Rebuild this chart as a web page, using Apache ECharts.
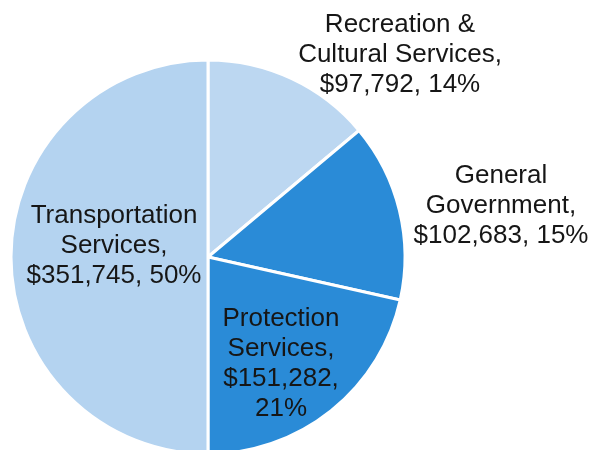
<!DOCTYPE html>
<html>
<head>
<meta charset="utf-8">
<script src="https://cdn.jsdelivr.net/npm/echarts@6/dist/echarts.min.js"></script>
<style>
  html, body { margin: 0; padding: 0; background: #ffffff; }
  #chart { width: 591px; height: 450px; }
</style>
</head>
<body>
<div id="chart"></div>
<script>
// Expenditure by function
const categories = [
  'Recreation &\nCultural Services',
  'General\nGovernment',
  'Protection\nServices',
  'Transportation\nServices'
];
const values = [97792, 102683, 151282, 351745];

// Slice fills, in category order
const sliceColors = ['#bcd7f1', '#2a8bd7', '#2a8bd7', '#b4d3f0'];
// Text block centres for each label
const labelCenters = [[400, 55], [501, 206], [281, 364], [114, 246]];
// Protection's value and percent sit on separate lines
const valueSeparators = [', ', ', ', ',\n', ', '];

const chart = echarts.init(document.getElementById('chart'), null, { renderer: 'canvas' });

chart.setOption({
  backgroundColor: '#ffffff',
  animation: false,
  series: [{
    type: 'pie',
    center: [208, 257],
    radius: 197,
    startAngle: 90,
    clockwise: true,
    percentPrecision: 0,
    data: categories.map((name, i) => ({
      name: name,
      value: values[i],
      itemStyle: { color: sliceColors[i] }
    })),
    itemStyle: { borderColor: '#ffffff', borderWidth: 3 },
    label: {
      show: true,
      position: 'inside',
      fontFamily: 'Liberation Sans, Arial, sans-serif',
      fontSize: 26,
      lineHeight: 30,
      color: '#161616',
      align: 'center',
      formatter: p => p.name + ',\n$' + p.value.toLocaleString('en-US') +
        valueSeparators[p.dataIndex] + p.percent + '%'
    },
    labelLine: { show: false },
    labelLayout: p => ({
      x: labelCenters[p.dataIndex][0],
      y: labelCenters[p.dataIndex][1],
      align: 'center',
      verticalAlign: 'middle'
    }),
    emphasis: { disabled: true }
  }]
});
</script>
</body>
</html>
